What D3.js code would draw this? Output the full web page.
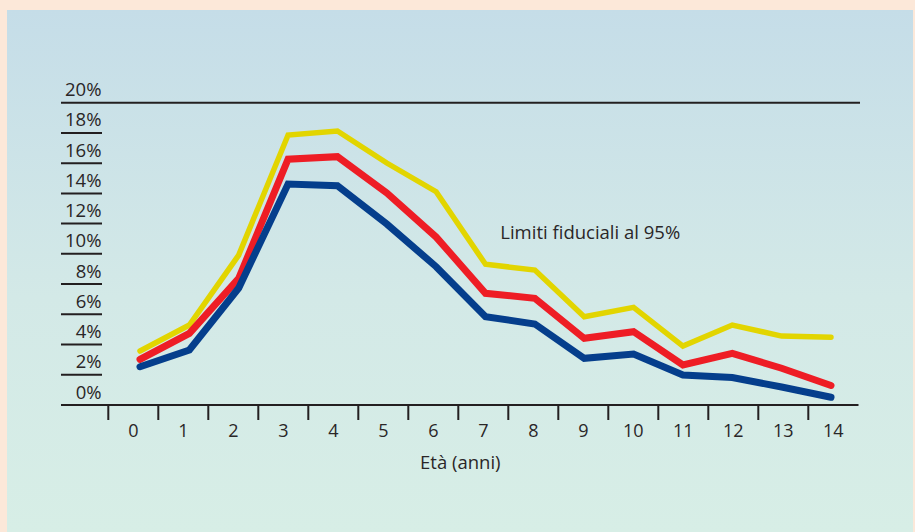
<!DOCTYPE html>
<html>
<head>
<meta charset="utf-8">
<script src="https://cdn.jsdelivr.net/npm/d3@7"></script>
<style>
  html, body { margin: 0; padding: 0; background: #FCE8D9; }
  svg { display: block; }
  text { font-family: "Open Sans", "Noto Sans", sans-serif; fill: #2a2627; }
</style>
</head>
<body>
<svg id="chart" width="915" height="532"></svg>
<script>
// ---- data ----
const ages = [0, 1, 2, 3, 4, 5, 6, 7, 8, 9, 10, 11, 12, 13, 14];
const yTickValues = [0, 2, 4, 6, 8, 10, 12, 14, 16, 18, 20];
const upperLimit = [3.57, 5.29, 9.92, 17.86, 18.13, 16.01, 14.11, 9.31, 8.93, 5.84, 6.46, 3.90, 5.29, 4.56, 4.48];
const estimate   = [3.02, 4.74, 8.38, 16.26, 16.43, 14.03, 11.11, 7.39, 7.06, 4.41, 4.85, 2.65, 3.42, 2.43, 1.29];
const lowerLimit = [2.53, 3.64, 7.74, 14.62, 14.51, 11.97, 9.15, 5.84, 5.36, 3.09, 3.37, 1.98, 1.82, 1.19, 0.51];
const seriesNames = ["upper", "estimate", "lower"];
const xTitle = "Età (anni)";
const annotation = { text: "Limiti fiduciali al 95%", age: 7.3, value: 11.0 };

// ---- layout ----
const svg = d3.select("#chart");
const W = 915, H = 532;

const defs = svg.append("defs");
const grad = defs.append("linearGradient").attr("id", "bg").attr("x1", 0).attr("y1", 0).attr("x2", 0).attr("y2", 1);
grad.append("stop").attr("offset", "0%").attr("stop-color", "#C5DDE8");
grad.append("stop").attr("offset", "55%").attr("stop-color", "#D3E9E7");
grad.append("stop").attr("offset", "100%").attr("stop-color", "#D7EEE6");

svg.append("rect").attr("x", 0).attr("y", 0).attr("width", W).attr("height", H).attr("fill", "#FCE8D9");
svg.append("rect").attr("x", 7).attr("y", 10).attr("width", 906).attr("height", H - 10).attr("fill", "url(#bg)");

const y = d3.scaleLinear().domain([0, 20]).range([405, 102.7]);
const xBand = d3.scaleBand().domain(ages).range([108.3, 858.3]).padding(0);
const xLine = d3.scaleLinear().domain([0, 14]).range([140, 831]);

const axisColor = "#231F20";
const leftX = 61, tickRight = 102;

// y ticks: label above a short rule; 20% and 0% rules span the chart
const yg = svg.append("g");
yg.selectAll("line").data(yTickValues).join("line")
  .attr("x1", leftX)
  .attr("x2", d => (d === 20 ? 860 : d === 0 ? 858.5 : tickRight))
  .attr("y1", d => y(d)).attr("y2", d => y(d))
  .attr("stroke", axisColor).attr("stroke-width", 2);
yg.selectAll("text").data(yTickValues).join("text")
  .attr("x", 101.5)
  .attr("y", d => y(d) - 6.5)
  .attr("text-anchor", "end")
  .attr("font-size", 18.5)
  .text(d => d + "%");

// x ticks at band edges, labels at band centers
const xg = svg.append("g");
xg.selectAll("line").data(ages).join("line")
  .attr("x1", d => xBand(d)).attr("x2", d => xBand(d))
  .attr("y1", y(0)).attr("y2", y(0) + 15)
  .attr("stroke", axisColor).attr("stroke-width", 2);
xg.selectAll("text").data(ages).join("text")
  .attr("x", d => xBand(d) + xBand.bandwidth() / 2)
  .attr("y", 436.5)
  .attr("text-anchor", "middle")
  .attr("font-size", 18)
  .text(d => d);

svg.append("text")
  .attr("x", (xBand.range()[0] + xBand.range()[1]) / 2 - 23)
  .attr("y", 468.5)
  .attr("text-anchor", "middle")
  .attr("font-size", 18.5)
  .text(xTitle);

// lines
const series = [
  { name: seriesNames[0], values: upperLimit, color: "#E2D500", width: 5.5 },
  { name: seriesNames[1], values: estimate,   color: "#EE1D25", width: 7 },
  { name: seriesNames[2], values: lowerLimit, color: "#053E8C", width: 7 }
];
const line = d3.line().x((d, i) => xLine(ages[i])).y(d => y(d));
svg.append("g").selectAll("path").data(series).join("path")
  .attr("d", s => line(s.values))
  .attr("fill", "none")
  .attr("stroke", s => s.color)
  .attr("stroke-width", s => s.width)
  .attr("stroke-linejoin", "miter")
  .attr("stroke-linecap", "round");

svg.append("text")
  .attr("x", xLine(annotation.age))
  .attr("y", y(annotation.value))
  .attr("font-size", 18.5)
  .text(annotation.text);
</script>
</body>
</html>
